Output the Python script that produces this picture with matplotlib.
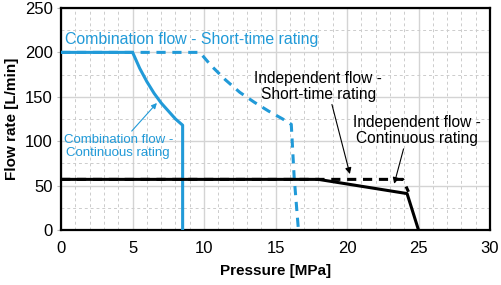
import matplotlib.pyplot as plt
from matplotlib.ticker import MultipleLocator

plt.rcParams['font.family'] = ['Liberation Sans', 'DejaVu Sans']

BLUE = '#219AD8'

# combination flow, continuous rating
comb_cont_p = [0, 5, 5.5, 6, 6.5, 7, 7.5, 8, 8.5, 8.5]
comb_cont_q = [200, 200, 182, 167, 154, 143, 134, 125, 118, 0]

# combination flow, short-time rating
comb_short_p = [0, 9.7, 10.5, 11.5, 12.5, 13.5, 14.5, 15.5, 16.1, 16.3, 16.6]
comb_short_q = [200, 200, 185, 169, 155, 144, 134, 125, 119, 60, 0]

# independent flow, continuous rating
ind_cont_p = [0, 18, 24.2, 25]
ind_cont_q = [57, 57, 41, 0]

# independent flow, short-time rating
ind_short_p = [0, 23.9, 24.3]
ind_short_q = [57, 57, 43]

fig, ax = plt.subplots(figsize=(5.01, 2.85), dpi=100)
fig.subplots_adjust(left=0.122, right=0.978, bottom=0.193, top=0.972)

ax.plot(comb_short_p, comb_short_q, color=BLUE, lw=2.2, ls=(0, (3, 2.2)), zorder=3)
ax.plot(comb_cont_p, comb_cont_q, color=BLUE, lw=2.2, zorder=4)
ax.plot(ind_cont_p, ind_cont_q, color='black', lw=2.2, zorder=4)
ax.plot(ind_short_p, ind_short_q, color='black', lw=2.2, ls=(0, (3, 2.2)), zorder=5)

ax.set_xlim(0, 30)
ax.set_ylim(0, 250)
ax.xaxis.set_major_locator(MultipleLocator(5))
ax.xaxis.set_minor_locator(MultipleLocator(1))
ax.yaxis.set_major_locator(MultipleLocator(50))
ax.yaxis.set_minor_locator(MultipleLocator(25))
ax.grid(which='major', color='#d4d4d4', lw=1.0)
ax.grid(which='minor', color='#cccccc', lw=0.7, ls=(0, (3, 3)))
ax.set_axisbelow(True)
ax.tick_params(which='both', length=0, labelsize=12, pad=8)
ax.tick_params(axis='y', which='major', length=3, direction='out', color='#bbbbbb', pad=3)
for s in ax.spines.values():
    s.set_linewidth(1.6)

ax.set_xlabel('Pressure [MPa]', fontsize=11, fontweight='bold', labelpad=6)
ax.set_ylabel('Flow rate [L/min]', fontsize=11, fontweight='bold', labelpad=4)

ax.text(0.3, 214, 'Combination flow - Short-time rating', color=BLUE,
        fontsize=11.4, va='center', ha='left')
ax.annotate('Combination flow -\nContinuous rating', xy=(6.7, 143), xytext=(4.0, 94),
            color=BLUE, fontsize=9.5, ha='center', va='center', linespacing=1.15,
            arrowprops=dict(arrowstyle='-|>', color=BLUE, lw=0.8,
                            shrinkA=0, shrinkB=0, mutation_scale=8,
                            relpos=(0.6, 1.0)))
ax.annotate('Independent flow -\nShort-time rating', xy=(20.2, 63), xytext=(18.0, 162),
            fontsize=11.2, ha='center', va='center', linespacing=1.1,
            arrowprops=dict(arrowstyle='-|>', color='black', lw=0.8,
                            shrinkA=0, shrinkB=0, mutation_scale=9,
                            relpos=(0.6, 0.0)))
ax.annotate('Independent flow -\nContinuous rating', xy=(23.3, 52), xytext=(24.9, 112),
            fontsize=11.2, ha='center', va='center', linespacing=1.1,
            arrowprops=dict(arrowstyle='-|>', color='black', lw=0.8,
                            shrinkA=0, shrinkB=0, mutation_scale=9,
                            relpos=(0.4, 0.0)))

fig.savefig('out.png', dpi=100)
